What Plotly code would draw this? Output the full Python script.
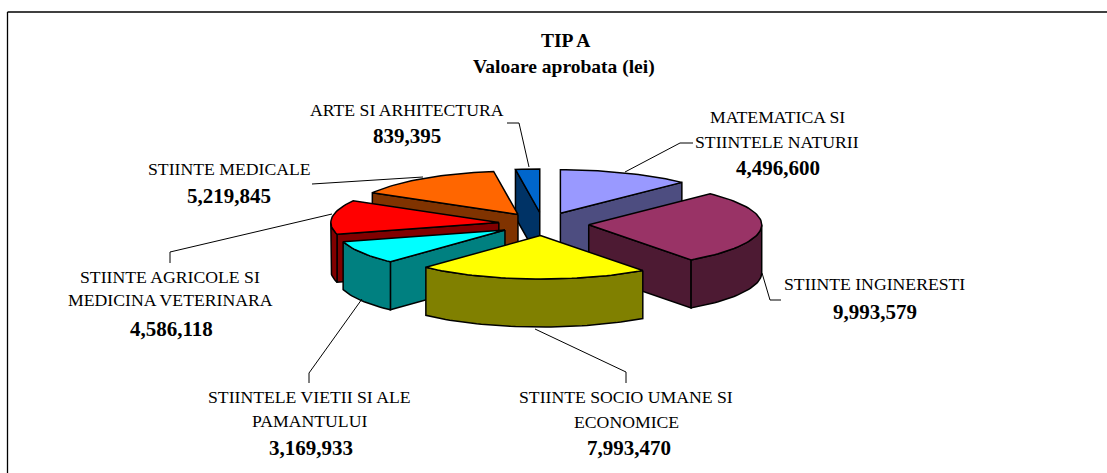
import math
import plotly.graph_objects as go

# ---- data ----
categories = [
    "MATEMATICA SI<br>STIINTELE NATURII",
    "STIINTE INGINERESTI",
    "STIINTE SOCIO UMANE SI<br>ECONOMICE",
    "STIINTELE VIETII SI ALE<br>PAMANTULUI",
    "STIINTE AGRICOLE SI<br>MEDICINA VETERINARA",
    "STIINTE MEDICALE",
    "ARTE SI ARHITECTURA",
]
values = [4496600, 9993579, 7993470, 3169933, 4586118, 5219845, 839395]
top_colors = ["#9999FF", "#993366", "#FFFF00", "#00FFFF", "#FF0000", "#FF6600", "#0066CC"]
wall_colors = ["#4D4D80", "#4D1A33", "#808000", "#008080", "#800000", "#803300", "#003366"]

# ---- layout constants (pixels) ----
W, H = 1107, 473
CX, CY, RX_RIGHT, RX_LEFT, RY, DEPTH, EXPLODE = 543.0, 224.0, 173.0, 168.0, 43.5, 48.0, 0.265
paint_order = [6, 0, 5, 4, 1, 3, 2]

name_pos = [
    [(777, 117), (777, 142)],
    [(874, 284)],
    [(626, 397), (626, 422)],
    [(309, 397), (309, 421)],
    [(170, 277), (170, 300)],
    [(229, 169)],
    [(407, 110)],
]
value_pos = [(778, 168), (875, 312), (629, 448), (311, 448), (171, 329), (229, 196), (407, 136)]
leaders = [
    [(625, 172), (680, 143), (693, 143)],
    [(762, 273), (770, 300), (781, 300)],
    [(535, 329), (626, 372), (626, 383)],
    [(362, 299), (309, 373), (309, 383)],
    [(332, 214), (170, 252), (170, 263)],
    [(423, 177), (312, 184)],
    [(529, 167), (519, 123), (507, 123)],
]

total = sum(values)
spans = [v / total * 2 * math.pi for v in values]
starts = [sum(spans[:i]) for i in range(len(spans))]

fig = go.Figure()


def poly(points, color):
    xs = [p[0] for p in points] + [points[0][0]]
    ys = [p[1] for p in points] + [points[0][1]]
    fig.add_trace(go.Scatter(x=xs, y=ys, mode="lines", fill="toself", fillcolor=color,
                             line=dict(color="#000000", width=1.5), hoverinfo="skip",
                             showlegend=False))


def rx(t):
    return RX_RIGHT if math.sin(t) >= 0 else RX_LEFT


def rim(ax, ay, t):
    return (ax + rx(t) * math.sin(t), ay - RY * math.cos(t))


for i in paint_order:
    t0, t1 = starts[i], starts[i] + spans[i]
    mid = (t0 + t1) / 2
    ax = CX + EXPLODE * rx(mid) * math.sin(mid)
    ay = CY - EXPLODE * RY * math.cos(mid)
    steps = max(4, int((t1 - t0) / 0.03))
    arc = [t0 + (t1 - t0) * k / steps for k in range(steps + 1)]

    # radial faces pointing at the viewer
    for t, normal in ((t0, t0 - math.pi / 2), (t1, t1 + math.pi / 2)):
        if math.cos(normal) < -1e-9:
            p = rim(ax, ay, t)
            poly([(ax, ay), p, (p[0], p[1] + DEPTH), (ax, ay + DEPTH)], wall_colors[i])
    # outer wall: only the part of the arc facing the viewer
    front = [t for t in arc if math.cos(t) < 0]
    if math.cos(t0) >= 0 and math.cos(t1) < 0:
        front = [math.pi / 2] + front
    if math.cos(t1) >= 0 and math.cos(t0) < 0:
        front = front + [3 * math.pi / 2]
    if len(front) > 1:
        upper = [rim(ax, ay, t) for t in front]
        lower = [(x, y + DEPTH) for x, y in reversed(upper)]
        poly(upper + lower, wall_colors[i])
    # top
    poly([(ax, ay)] + [rim(ax, ay, t) for t in arc], top_colors[i])

# frame: only the left and top edges are visible in the window
shapes = [
    dict(type="line", xref="x", yref="y", x0=7.5, y0=12, x1=W, y1=12,
         line=dict(color="#000000", width=1.3)),
    dict(type="line", xref="x", yref="y", x0=7.5, y0=12, x1=7.5, y1=H,
         line=dict(color="#000000", width=1.3)),
]
for pts in leaders:
    for a, b in zip(pts, pts[1:]):
        shapes.append(dict(type="line", xref="x", yref="y", x0=a[0], y0=a[1], x1=b[0], y1=b[1],
                           line=dict(color="#000000", width=1)))

FONT = "Liberation Serif"
ann = []


def text(s, x, y, size, bold=False):
    ann.append(dict(text=f"<b>{s}</b>" if bold else s, x=x, y=y, xref="x", yref="y",
                    xanchor="center", yanchor="middle", showarrow=False,
                    font=dict(family=FONT, size=size, color="#000000")))


text("TIP A", 565, 40, 19.5, True)
text("Valoare aprobata (lei)", 564, 67, 19.5, True)
for cat, val, np_, vp in zip(categories, values, name_pos, value_pos):
    for line, p in zip(cat.split("<br>"), np_):
        text(line, p[0], p[1], 17.7)
    text(f"{val:,}", vp[0], vp[1], 21, True)

fig.update_layout(
    width=W, height=H, margin=dict(l=0, r=0, t=0, b=0), autosize=False,
    paper_bgcolor="#FFFFFF", plot_bgcolor="#FFFFFF", showlegend=False,
    xaxis=dict(range=[0, W], visible=False, fixedrange=True),
    yaxis=dict(range=[H, 0], visible=False, fixedrange=True),
    shapes=shapes, annotations=ann,
)
fig.write_html("out.html", config={"displayModeBar": False},
               post_script="document.body.style.margin='0';document.body.style.overflow='hidden';")
